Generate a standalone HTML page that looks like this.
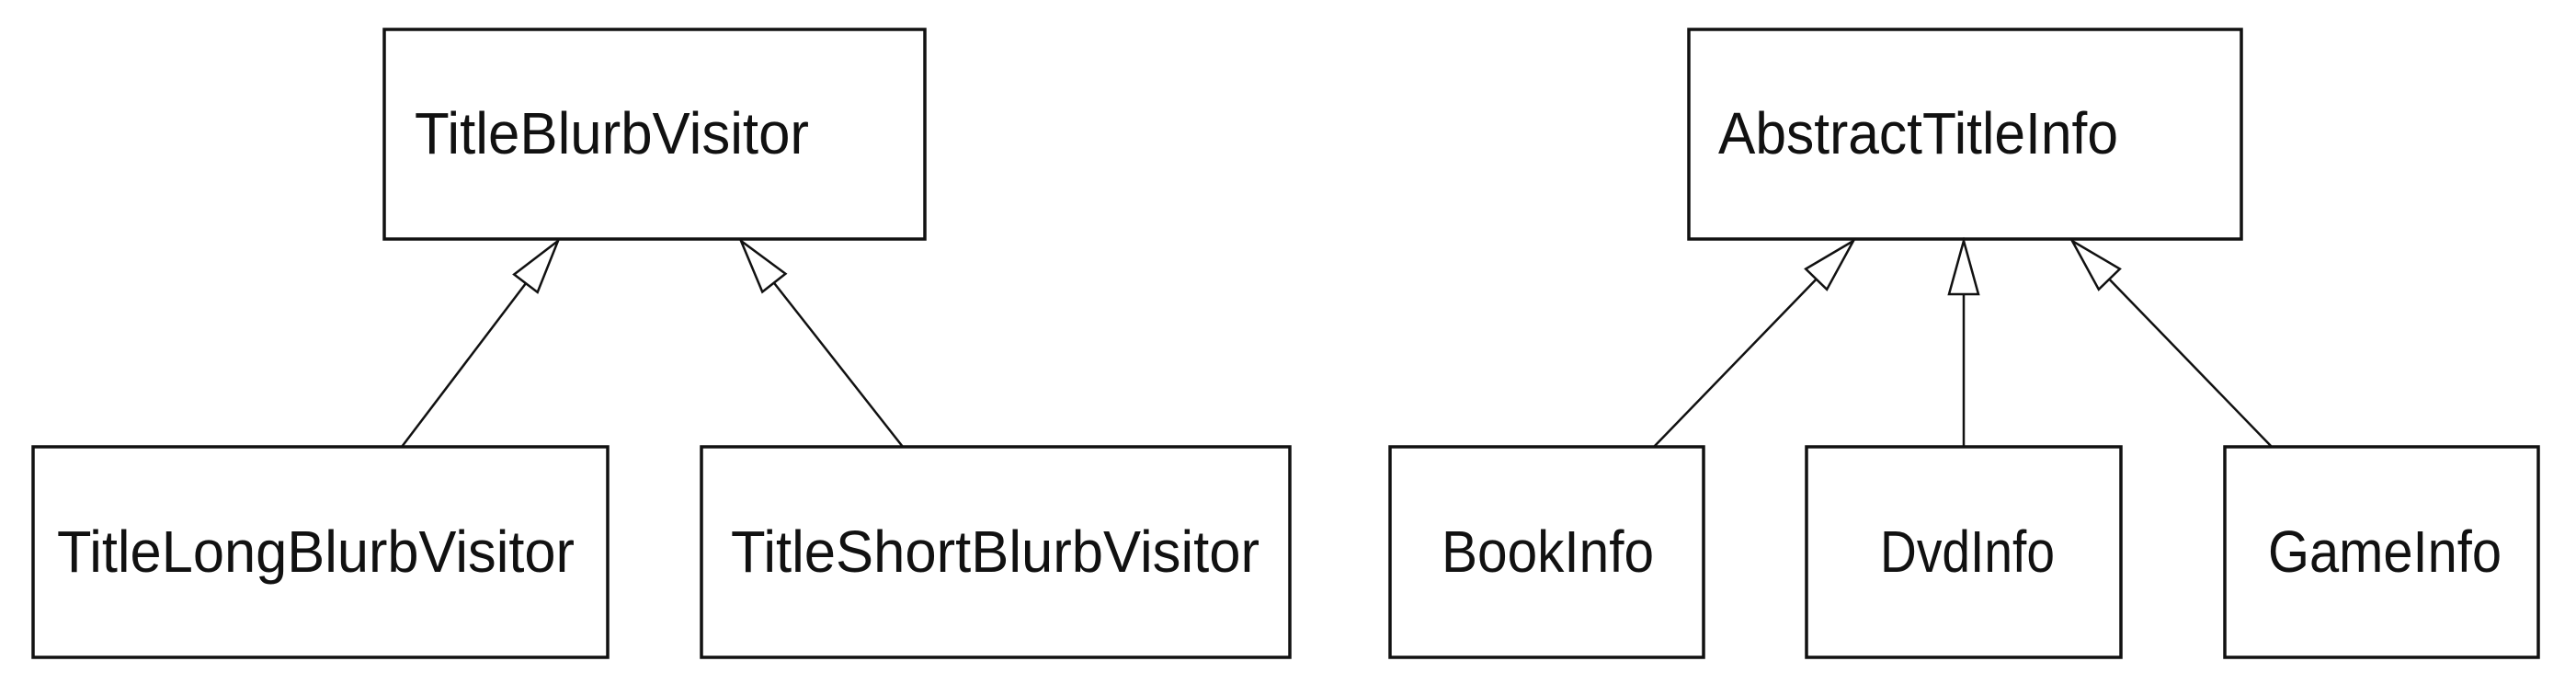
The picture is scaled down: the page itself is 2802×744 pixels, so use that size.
<!DOCTYPE html>
<html><head><meta charset="utf-8"><style>
html,body{margin:0;padding:0;background:#fff;}
svg{display:block;}
text{font-family:"Liberation Sans",Arial,sans-serif;font-size:64px;fill:#111;}
</style></head><body>
<svg width="2802" height="744" viewBox="0 0 2802 744" xmlns="http://www.w3.org/2000/svg">
<defs>
<marker id="tri" markerUnits="userSpaceOnUse" markerWidth="68" markerHeight="44" viewBox="-64 -22 68 44" refX="0" refY="0" orient="auto">
<path d="M0,0 L-58,-16 L-58,16 Z" fill="#fff" stroke="#111" stroke-width="2.5"/>
</marker>
</defs>
<g fill="#fff" stroke="#111" stroke-width="3.5">
<rect x="418" y="32" width="588" height="228"/>
<rect x="36" y="486" width="625" height="229"/>
<rect x="763" y="486" width="640" height="229"/>
<rect x="1837" y="32" width="601" height="228"/>
<rect x="1512" y="486" width="341" height="229"/>
<rect x="1965" y="486" width="342" height="229"/>
<rect x="2420" y="486" width="341" height="229"/>
</g>
<g stroke="#111" stroke-width="2.5" fill="none">
<line x1="437" y1="486" x2="607" y2="262" marker-end="url(#tri)"/>
<line x1="982" y1="486" x2="806" y2="262" marker-end="url(#tri)"/>
<line x1="1799" y1="486" x2="2016" y2="262" marker-end="url(#tri)"/>
<line x1="2136" y1="486" x2="2136" y2="262" marker-end="url(#tri)"/>
<line x1="2471" y1="486" x2="2254" y2="262" marker-end="url(#tri)"/>
</g>
<text x="451" y="167" textLength="429" lengthAdjust="spacingAndGlyphs">TitleBlurbVisitor</text>
<text x="62" y="622" textLength="563" lengthAdjust="spacingAndGlyphs">TitleLongBlurbVisitor</text>
<text x="795" y="622" textLength="575" lengthAdjust="spacingAndGlyphs">TitleShortBlurbVisitor</text>
<text x="1869" y="167" textLength="435" lengthAdjust="spacingAndGlyphs">AbstractTitleInfo</text>
<text x="1568" y="622" textLength="231" lengthAdjust="spacingAndGlyphs">BookInfo</text>
<text x="2045" y="622" textLength="190" lengthAdjust="spacingAndGlyphs">DvdInfo</text>
<text x="2467" y="622" textLength="254" lengthAdjust="spacingAndGlyphs">GameInfo</text>
</svg>
</body></html>
